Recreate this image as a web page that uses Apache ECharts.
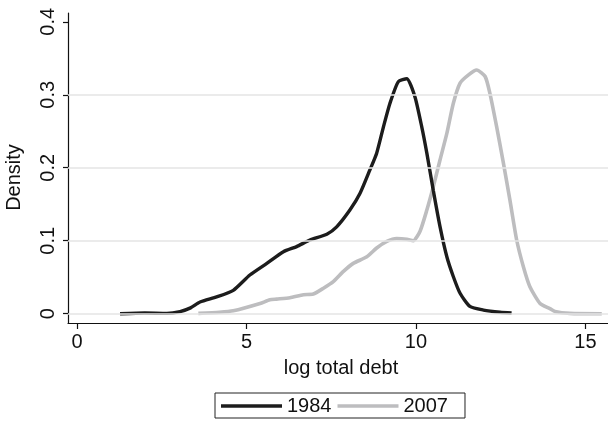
<!DOCTYPE html>
<html>
<head>
<meta charset="utf-8">
<script src="https://cdn.jsdelivr.net/npm/echarts@6/dist/echarts.min.js"></script>
<style>html,body{margin:0;padding:0;background:#fff}#c{width:608px;height:422px}</style>
</head>
<body>
<div id="c"></div>
<script>
const seriesNames = ['1984', '2007'];
const x1984 = [1.27, 2.0, 2.65, 3.04, 3.35, 3.63, 4.12, 4.61, 5.10, 5.6, 6.09, 6.48, 6.87, 7.37, 7.66, 8.05, 8.35, 8.64, 8.84, 9.04, 9.23, 9.48, 9.73, 9.97, 10.17, 10.32, 10.51, 10.71, 10.91, 11.1, 11.3, 11.59, 11.99, 12.48, 12.82];
const y1984 = [0.000, 0.001, 0.0005, 0.003, 0.008, 0.016, 0.023, 0.032, 0.053, 0.069, 0.085, 0.092, 0.101, 0.109, 0.119, 0.142, 0.165, 0.197, 0.220, 0.256, 0.288, 0.318, 0.322, 0.297, 0.256, 0.220, 0.169, 0.119, 0.078, 0.051, 0.028, 0.010, 0.005, 0.002, 0.001];
const x2007 = [3.58, 4.2, 4.61, 5.4, 5.69, 5.89, 6.28, 6.68, 6.97, 7.27, 7.56, 7.86, 8.15, 8.55, 8.84, 9.14, 9.43, 9.73, 9.92, 10.12, 10.32, 10.51, 10.71, 10.91, 11.1, 11.3, 11.54, 11.79, 12.04, 12.18, 12.38, 12.58, 12.77, 12.97, 13.17, 13.36, 13.66, 13.95, 14.1, 14.54, 15.48];
const y2007 = [0.0005, 0.002, 0.004, 0.014, 0.019, 0.020, 0.022, 0.026, 0.027, 0.035, 0.044, 0.058, 0.069, 0.078, 0.090, 0.099, 0.103, 0.102, 0.100, 0.113, 0.142, 0.174, 0.211, 0.247, 0.288, 0.316, 0.327, 0.334, 0.325, 0.302, 0.256, 0.206, 0.156, 0.101, 0.064, 0.037, 0.014, 0.007, 0.003, 0.0005, 0.000];
const xTicks = [0, 5, 10, 15];
const yTicks = [0, 0.1, 0.2, 0.3, 0.4];
const yGrid = [0, 0.1, 0.2, 0.3];
const xTitle = 'log total debt';
const yTitle = 'Density';

const pairs = (xs, ys) => xs.map((x, i) => [x, ys[i]]);
const font = 'Liberation Sans, Arial, Helvetica, sans-serif';
const chart = echarts.init(document.getElementById('c'), null, {renderer: 'canvas'});
chart.setOption({
  animation: false,
  backgroundColor: '#fff',
  grid: {left: 68, right: 0, top: 13, bottom: 99, containLabel: false, outerBoundsMode: 'none'},
  xAxis: {
    type: 'value', min: -0.2655, max: 15.664,
    name: xTitle, nameLocation: 'middle', nameGap: 35,
    nameTextStyle: {fontFamily: font, fontSize: 20, color: '#111', padding: [0, 0, 0, 6]},
    axisLine: {show: true, onZero: false, lineStyle: {color: '#111', width: 1.2}},
    axisTick: {show: true, length: 6, customValues: xTicks, lineStyle: {color: '#111', width: 1.2}},
    axisLabel: {customValues: xTicks, fontFamily: font, fontSize: 20, color: '#111', margin: 9},
    splitLine: {show: false}
  },
  yAxis: {
    type: 'value', min: -0.0127, max: 0.412,
    name: yTitle, nameLocation: 'middle', nameGap: 44,
    nameTextStyle: {fontFamily: font, fontSize: 20, color: '#111', padding: [0, 19, 0, 0]},
    axisLine: {show: true, onZero: false, lineStyle: {color: '#111', width: 1.2}},
    axisTick: {show: true, length: 5, customValues: yTicks, lineStyle: {color: '#111', width: 1.2}},
    axisLabel: {customValues: yTicks, rotate: 90, fontFamily: font, fontSize: 20, color: '#111', margin: 10},
    splitLine: {show: false}
  },
  legend: {
    data: seriesNames,
    left: 215, top: 393,
    orient: 'horizontal',
    icon: 'rect', itemWidth: 61, itemHeight: 3.5, itemGap: 6,
    padding: [3, 17, 2, 6],
    borderColor: '#222', borderWidth: 1,
    textStyle: {fontFamily: font, fontSize: 20, color: '#111', padding: [0, 0, 0, 0]}
  },
  series: [
    {
      type: 'line', name: '_grid', data: [], silent: true, z: 0,
      markLine: {
        silent: true, symbol: 'none', label: {show: false},
        lineStyle: {color: '#e4e4e4', type: 'solid', width: 1.5},
        data: yGrid.map(v => ({yAxis: v}))
      }
    },
    {
      type: 'line', name: seriesNames[1], data: pairs(x2007, y2007),
      showSymbol: false, smooth: 0.2, z: 2,
      lineStyle: {color: '#bdbdbf', width: 3.6}, itemStyle: {color: '#bdbdbf'}
    },
    {
      type: 'line', name: seriesNames[0], data: pairs(x1984, y1984),
      showSymbol: false, smooth: 0.2, z: 3,
      lineStyle: {color: '#1c1c1c', width: 3.4}, itemStyle: {color: '#1c1c1c'}
    }
  ]
});
</script>
</body>
</html>
